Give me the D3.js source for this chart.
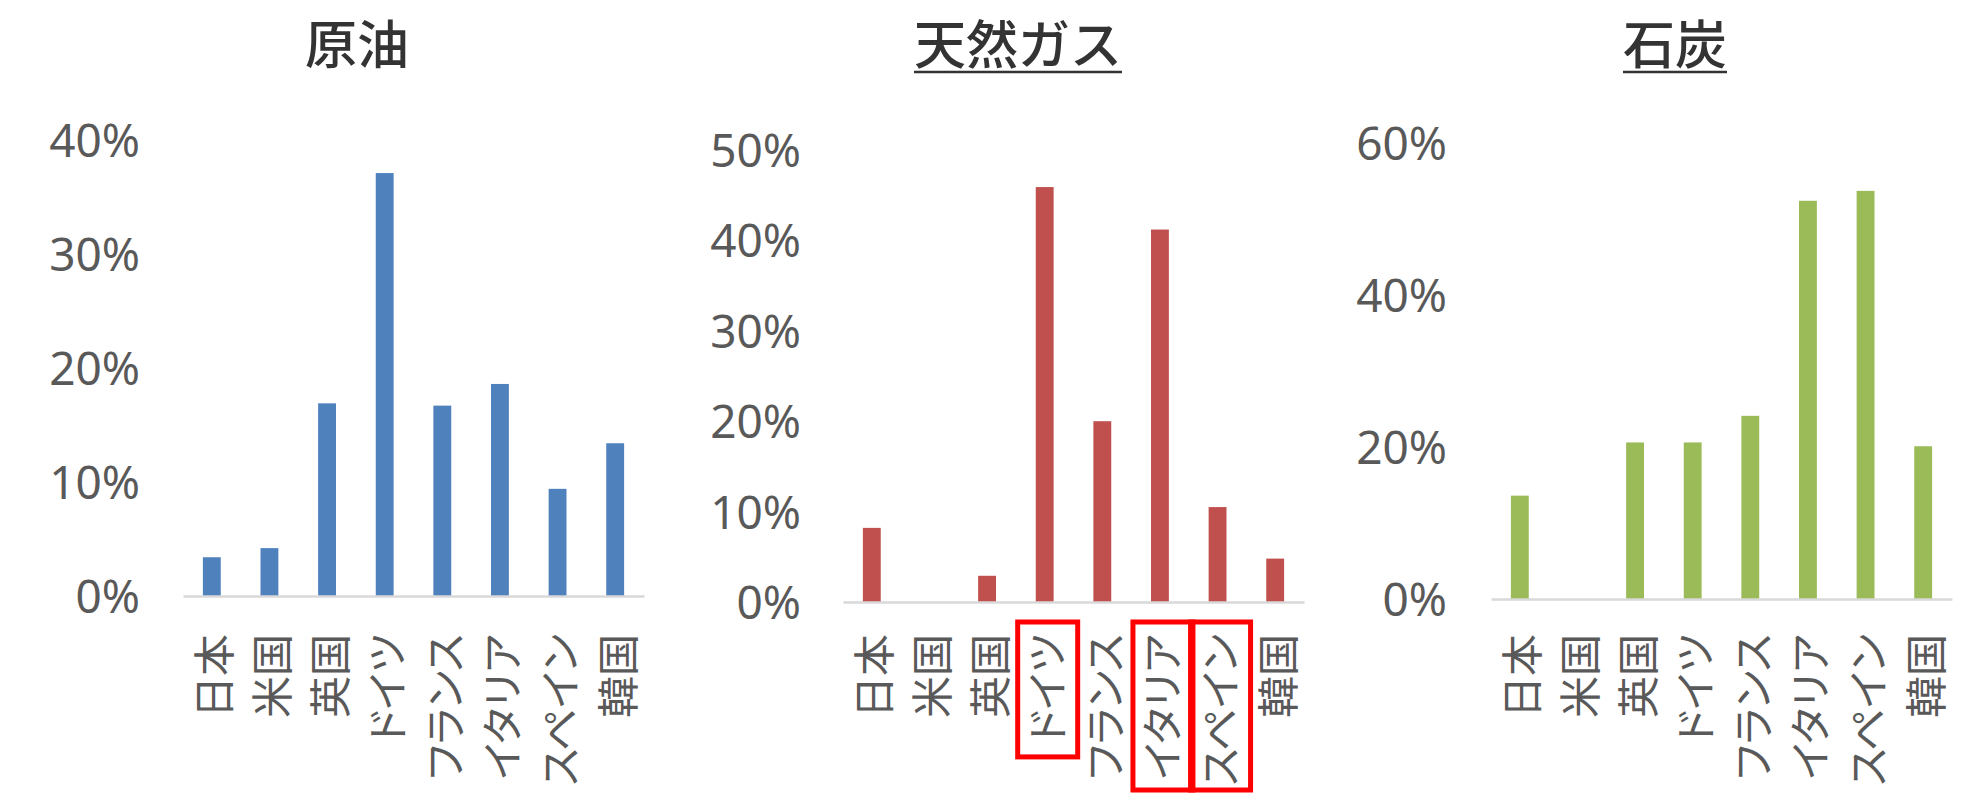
<!DOCTYPE html>
<html><head><meta charset="utf-8">
<script src="https://cdn.jsdelivr.net/npm/d3@7"></script>
<style>
body{margin:0;background:#fff;}
svg{display:block;}
.xl text{font-family:"Noto Sans CJK JP",sans-serif;font-size:42px;fill:#595959;font-feature-settings:"palt";}
.yl text{font-family:"Noto Sans","Open Sans",sans-serif;font-size:46px;fill:#595959;}
.title{font-family:"Noto Sans CJK JP",sans-serif;font-size:52px;font-weight:500;fill:#333;}
</style>
</head><body>
<svg id="c" width="1976" height="793"></svg>
<script>
// ---- data ----
const countries = ["日本","米国","英国","ドイツ","フランス","イタリア","スペイン","韓国"];
const crudeOil   = [3.4, 4.2, 16.9, 37.1, 16.7, 18.6, 9.4, 13.4];
const naturalGas = [8.2, 0, 2.9, 45.9, 20.0, 41.2, 10.5, 4.8];
const coal       = [13.6, 0, 20.6, 20.6, 24.1, 52.4, 53.7, 20.1];
const titles = ["原油", "天然ガス", "石炭"];
const crudeTicks = [0, 10, 20, 30, 40];
const gasTicks   = [0, 10, 20, 30, 40, 50];
const coalTicks  = [0, 20, 40, 60];
const gasHighlighted = ["ドイツ", "イタリア", "スペイン"];

// ---- layout ----
const panels = [
  {title: titles[0], values: crudeOil,   ticks: crudeTicks, color: "#4f81bd",
   x0: 183, x1: 644, yBase: 596, yTop: 140, labelX: 140, titleX: 357, underline: false},
  {title: titles[1], values: naturalGas, ticks: gasTicks,   color: "#c0504d",
   x0: 843, x1: 1304, yBase: 602, yTop: 150, labelX: 801, titleX: 1018, underline: true,
   highlight: gasHighlighted},
  {title: titles[2], values: coal,       ticks: coalTicks,  color: "#9bbb59",
   x0: 1491, x1: 1952, yBase: 599, yTop: 143, labelX: 1447, titleX: 1675, underline: true}
];
const labelTop = 634;

const svg = d3.select("#c");

panels.forEach(p => {
  const g = svg.append("g");
  const x = d3.scaleBand().domain(countries).range([p.x0, p.x1])
    .paddingInner(0.69).paddingOuter(0.345);
  const y = d3.scaleLinear().domain([0, d3.max(p.ticks)]).range([p.yBase, p.yTop]);

  // title
  const t = g.append("text").attr("class", "title")
    .attr("x", p.titleX).attr("y", 64).attr("text-anchor", "middle").text(p.title);
  if (p.underline) {
    const bb = t.node().getBBox();
    g.append("line").attr("x1", bb.x).attr("x2", bb.x + bb.width)
      .attr("y1", 72).attr("y2", 72).attr("stroke", "#333").attr("stroke-width", 2.5);
  }

  // y axis labels
  const ya = g.append("g").attr("class", "yl").attr("transform", `translate(${p.labelX},0)`)
    .call(d3.axisLeft(y).tickValues(p.ticks).tickSize(0).tickPadding(0).tickFormat(d => d + "%"));
  ya.select(".domain").remove();
  ya.selectAll("text").attr("dy", "0.36em");

  // bars
  g.selectAll("rect.bar").data(p.values).join("rect").attr("class", "bar")
    .attr("x", (d, i) => x(countries[i]))
    .attr("width", x.bandwidth())
    .attr("y", d => y(d))
    .attr("height", d => y(0) - y(d))
    .attr("fill", p.color);

  // x axis
  const xa = g.append("g").attr("class", "xl").attr("transform", `translate(0,${p.yBase})`)
    .call(d3.axisBottom(x).tickSize(0).tickSizeOuter(0));
  xa.select(".domain").attr("stroke", "#d9d9d9").attr("stroke-width", 2.5);
  xa.selectAll("text")
    .attr("x", 0).attr("y", 0).attr("dy", null)
    .attr("text-anchor", "end")
    .attr("dominant-baseline", "central")
    .attr("transform", `translate(0,${labelTop - p.yBase}) rotate(-90)`);

  // highlight boxes
  if (p.highlight) {
    xa.selectAll(".tick").each(function(d) {
      if (!p.highlight.includes(d)) return;
      const txt = d3.select(this).select("text").node();
      const r = txt.getBoundingClientRect();
      const xc = x(d) + x.bandwidth() / 2;
      const top = 622;
      const bottom = Math.min(r.bottom + 14, 790);
      svg.append("rect")
        .attr("x", xc - 27).attr("y", top)
        .attr("width", 60).attr("height", bottom - top)
        .attr("fill", "none").attr("stroke", "#ff0000").attr("stroke-width", 5);
    });
  }
});
</script>
</body></html>
